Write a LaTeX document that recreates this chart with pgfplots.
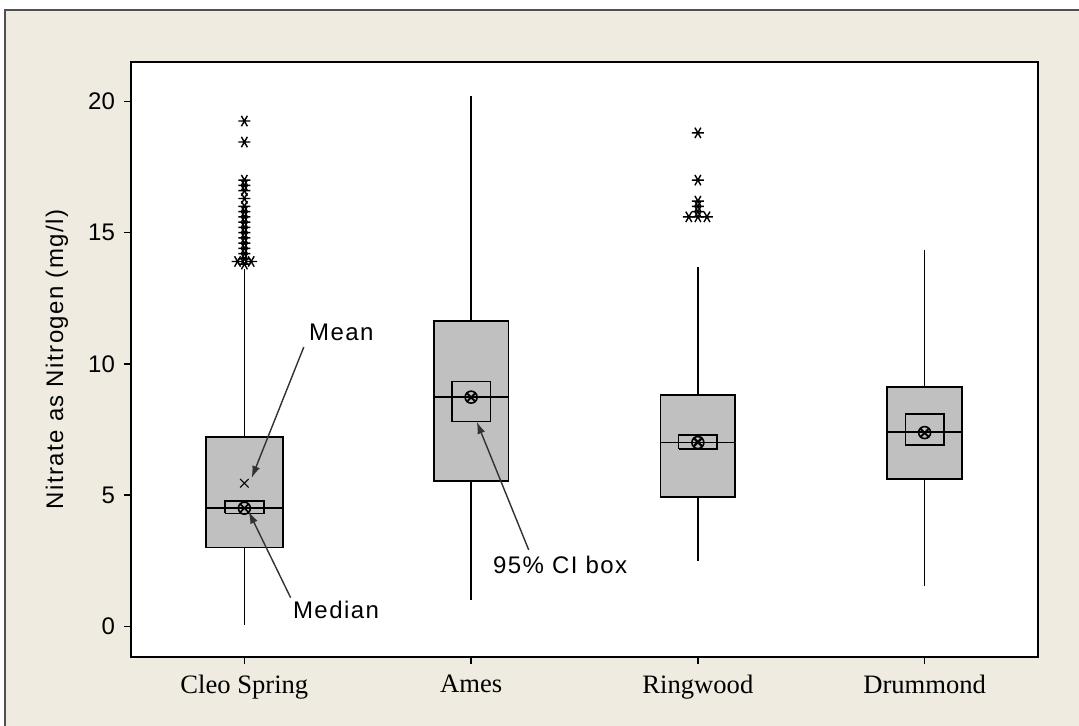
\documentclass[border=0pt]{standalone}
\usepackage{pgfplots}
\pgfplotsset{compat=1.18}
\usepgfplotslibrary{statistics}
\usetikzlibrary{arrows.meta}
\usepackage{fontspec}
\setmainfont{Liberation Sans}
\newfontfamily\serifx{Liberation Serif}
\newfontfamily\annot{Liberation Sans}[LetterSpace=6]
\definecolor{beige}{RGB}{239,235,225}
\definecolor{boxgray}{RGB}{192,192,192}
\definecolor{framegray}{RGB}{80,80,80}
\definecolor{arrowgray}{RGB}{50,50,50}
\begin{document}
\begin{tikzpicture}
\useasboundingbox (-65.5pt,-34.5pt) rectangle (474pt,328.5pt);
\fill[white] (-65.5pt,-34.5pt) rectangle (474pt,328.5pt);
\fill[beige] (-63pt,-34.5pt) rectangle (474pt,323.5pt);
\draw[framegray, line width=1pt] (-63pt,-34.5pt) -- (-63pt,323.5pt) -- (474pt,323.5pt);
\begin{axis}[
  at={(0pt,0pt)}, anchor=south west,
  scale only axis, width=453.5pt, height=297.5pt,
  xmin=0.5, xmax=4.5, ymin=-1.17, ymax=21.5,
  xtick={1,2,3,4}, xticklabels={Cleo Spring,Ames,Ringwood,Drummond},
  ytick={0,5,10,15,20},
  tick align=outside, xtick pos=left, ytick pos=left,
  major tick length=3.5pt,
  tick style={black, line width=0.7pt},
  axis line style={black, line width=1.1pt},
  axis background/.style={fill=white},
  yticklabel style={font=\fontsize{12}{14}\selectfont, xshift=-1pt},
  xticklabel style={font=\serifx\fontsize{13.3}{15}\selectfont, yshift=-2pt},
  /pgf/number format/assume math mode=true,
  boxplot/draw direction=y,
  clip=false,
]
% main boxes
\addplot[draw=black, fill=boxgray, line width=0.85pt, boxplot prepared={draw position=1, lower whisker=0.05, lower quartile=3.0, median=4.5, upper quartile=7.2, upper whisker=13.6, box extend=0.34, whisker extend=0}] coordinates {};
\addplot[draw=black, fill=boxgray, line width=0.85pt, boxplot prepared={draw position=2, lower whisker=1.0, lower quartile=5.53, median=8.73, upper quartile=11.62, upper whisker=20.2, box extend=0.33, whisker extend=0}] coordinates {};
\addplot[draw=black, fill=boxgray, line width=0.85pt, boxplot prepared={draw position=3, lower whisker=2.5, lower quartile=4.92, median=7.0, upper quartile=8.8, upper whisker=13.7, box extend=0.33, whisker extend=0}] coordinates {};
\addplot[draw=black, fill=boxgray, line width=0.85pt, boxplot prepared={draw position=4, lower whisker=1.55, lower quartile=5.6, median=7.4, upper quartile=9.12, upper whisker=14.35, box extend=0.33, whisker extend=0}] coordinates {};
% CI boxes
\addplot[black, line width=0.85pt] coordinates {(0.915,4.3) (1.085,4.3) (1.085,4.78) (0.915,4.78) (0.915,4.3)};
\addplot[black, line width=0.85pt] coordinates {(1.915,7.8) (2.085,7.8) (2.085,9.33) (1.915,9.33) (1.915,7.8)};
\addplot[black, line width=0.85pt] coordinates {(2.915,6.75) (3.085,6.75) (3.085,7.3) (2.915,7.3) (2.915,6.75)};
\addplot[black, line width=0.85pt] coordinates {(3.915,6.92) (4.085,6.92) (4.085,8.1) (3.915,8.1) (3.915,6.92)};
% outliers
\addplot[only marks, mark=asterisk, mark size=3pt, mark options={rotate=90, line width=0.7pt, black}] coordinates {
(1,19.25) (1,18.45) (1,17.0) (1,16.8) (1,16.6) (1,16.3) (1,16.0) (1,15.8) (1,15.6) (1,15.4) (1,15.2) (1,15.0) (1,14.8) (1,14.6) (1,14.4) (1,14.2) (1,14.0) (0.97,13.9) (1.03,13.9) (1,13.8)
(3,18.8) (3,17.0) (3,16.2) (3,16.0) (3,15.8) (2.96,15.6) (3.04,15.6) (3,15.6)};
% medians
\addplot[only marks, mark=otimes, mark size=3pt, mark options={line width=0.8pt, black}] coordinates {(1,4.5) (2,8.73) (3,7.0) (4,7.38)};
% means
\addplot[only marks, mark=x, mark size=3pt, mark options={line width=0.6pt, black}] coordinates {(1,5.45) (2,8.7) (3,7.05) (4,7.35)};
% annotations
\draw[arrowgray, line width=0.7pt, -{Latex[length=6pt,width=4pt]}] (axis cs:1.262,10.64) -- (axis cs:1.032,5.65);
\draw[arrowgray, line width=0.7pt, -{Latex[length=6pt,width=4pt]}] (axis cs:1.204,1.09) -- (axis cs:1.019,4.37);
\draw[arrowgray, line width=0.7pt, -{Latex[length=6pt,width=4pt]}] (axis cs:2.254,2.91) -- (axis cs:2.025,7.79);
\node[anchor=west, font=\annot\fontsize{12}{14}\selectfont, inner sep=0pt] at (axis cs:1.284,11.19) {Mean};
\node[anchor=west, font=\annot\fontsize{12}{14}\selectfont, inner sep=0pt] at (axis cs:1.213,0.63) {Median};
\node[anchor=west, font=\annot\fontsize{12}{14}\selectfont, inner sep=0pt] at (axis cs:2.095,2.34) {95\% CI box};
\node[rotate=90, font=\annot\fontsize{12}{14}\selectfont, inner sep=0pt] at ([xshift=-37pt]rel axis cs:0,0.5) {Nitrate as Nitrogen (mg/l)};
\end{axis}
\end{tikzpicture}
\end{document}
